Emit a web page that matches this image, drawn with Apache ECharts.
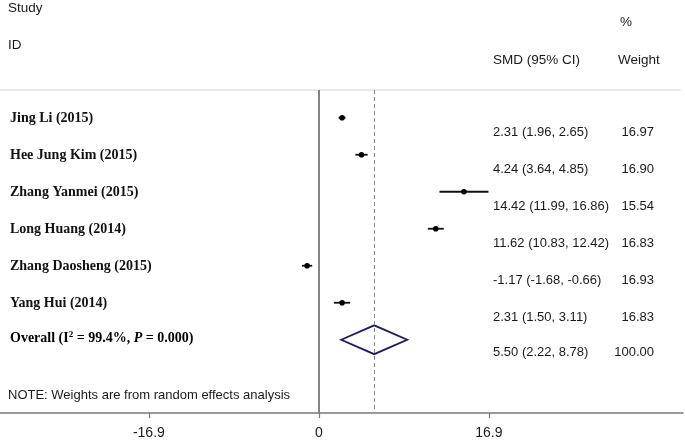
<!DOCTYPE html>
<html>
<head>
<meta charset="utf-8">
<script src="https://cdn.jsdelivr.net/npm/echarts@6/dist/echarts.min.js"></script>
<style>
html,body{margin:0;padding:0;background:#fff;}
#chart{width:685px;height:443px;}
</style>
</head>
<body>
<div id="chart"></div>
<script>
// ---- data ----
const studies = ['Jing Li (2015)', 'Hee Jung Kim (2015)', 'Zhang Yanmei (2015)', 'Long Huang (2014)', 'Zhang Daosheng (2015)', 'Yang Hui (2014)'];
const smd = [2.31, 4.24, 14.42, 11.62, -1.17, 2.31];
const lower = [1.96, 3.64, 11.99, 10.83, -1.68, 1.50];
const upper = [2.65, 4.85, 16.86, 12.42, -0.66, 3.11];
const weights = ['16.97', '16.90', '15.54', '16.83', '16.93', '16.83'];
const overallEst = 5.50;
const overallLower = 2.22;
const overallUpper = 8.78;
const overallWeight = '100.00';
const overallLabel = '{b|Overall (I}{sup|2}{b| = 99.4%, }{bi|P}{b| = 0.000)}';
const tickValues = [-16.9, 0, 16.9];
const tickLabels = ['-16.9', '0', '16.9'];
const noteText = 'NOTE: Weights are from random effects analysis';

const fmt = v => v.toFixed(2);
const ciTexts = smd.map((v, i) => fmt(v) + ' (' + fmt(lower[i]) + ', ' + fmt(upper[i]) + ')');
const overallCI = fmt(overallEst) + ' (' + fmt(overallLower) + ', ' + fmt(overallUpper) + ')';

const chart = echarts.init(document.getElementById('chart'));
const SANS = 'Liberation Sans, Arial, sans-serif';
const SERIF = 'Liberation Serif, Times New Roman, serif';
const TXT = '#1a1a1a';

const studyData = studies.map((s, i) => [lower[i], upper[i], smd[i], i]);
const nRows = studies.length;

const option = {
  animation: false,
  backgroundColor: '#fff',
  grid: { left: 0, right: 2, top: 90, bottom: 30 },
  xAxis: {
    type: 'value', min: -31.7, max: 36.2,
    axisLine: { show: true, onZero: false, lineStyle: { color: '#7a7a7a', width: 1.5 } },
    axisTick: { show: true, customValues: tickValues, length: 5, lineStyle: { color: '#7a7a7a', width: 1.2 } },
    axisLabel: {
      customValues: tickValues, margin: 13,
      formatter: v => { const k = tickValues.findIndex(t => Math.abs(t - v) < 1e-6); return k >= 0 ? tickLabels[k] : ''; },
      fontFamily: SANS, fontSize: 14, color: TXT
    },
    splitLine: { show: false }
  },
  yAxis: { type: 'value', min: -0.75, max: 7.98, inverse: true, show: false },
  graphic: [
    { type: 'line', shape: { x1: 0, y1: 90, x2: 681, y2: 90 }, style: { stroke: '#d4d4d4', lineWidth: 1 } },
    { type: 'text', x: 8, y: 8, style: { text: 'Study', font: '13.5px ' + SANS, fill: TXT, verticalAlign: 'middle' } },
    { type: 'text', x: 8, y: 45, style: { text: 'ID', font: '13.5px ' + SANS, fill: TXT, verticalAlign: 'middle' } },
    { type: 'text', x: 620, y: 22, style: { text: '%', font: '13.5px ' + SANS, fill: TXT, verticalAlign: 'middle' } },
    { type: 'text', x: 493, y: 60, style: { text: 'SMD (95% CI)', font: '13.5px ' + SANS, fill: TXT, verticalAlign: 'middle' } },
    { type: 'text', x: 618, y: 60, style: { text: 'Weight', font: '13.5px ' + SANS, fill: TXT, verticalAlign: 'middle' } },
    { type: 'text', x: 8, y: 395, style: { text: noteText, font: '13px ' + SANS, fill: TXT, verticalAlign: 'middle' } }
  ],
  series: [
    {
      type: 'custom',
      data: studyData,
      renderItem: (params, api) => {
        const row = api.value(3);
        const p1 = api.coord([api.value(0), row]);
        const p2 = api.coord([api.value(1), row]);
        const pc = api.coord([api.value(2), row]);
        const i = params.dataIndex;
        return {
          type: 'group',
          children: [
            { type: 'line', shape: { x1: p1[0], y1: p1[1], x2: p2[0], y2: p2[1] }, style: { stroke: '#111', lineWidth: 1.8 } },
            { type: 'circle', shape: { cx: pc[0], cy: pc[1], r: 2.8 }, style: { fill: '#000' } },
            { type: 'text', x: 10, y: pc[1] + 1, style: { text: studies[i], font: 'bold 14px ' + SERIF, fill: '#111', verticalAlign: 'middle' } },
            { type: 'text', x: 493, y: pc[1] + 15, style: { text: ciTexts[i], font: '13px ' + SANS, fill: TXT, verticalAlign: 'middle' } },
            { type: 'text', x: 654, y: pc[1] + 15, style: { text: weights[i], font: '13px ' + SANS, fill: TXT, align: 'right', verticalAlign: 'middle' } }
          ]
        };
      },
      markLine: {
        silent: true, symbol: ['none', 'none'], label: { show: false },
        data: [
          { xAxis: 0, lineStyle: { color: '#858585', width: 2, type: 'solid' } },
          { xAxis: overallEst, lineStyle: { color: '#8a8a8a', width: 1, type: [4, 3] } }
        ]
      },
      z: 3
    },
    {
      type: 'custom',
      data: [[overallLower, overallUpper, overallEst, nRows]],
      renderItem: (params, api) => {
        const row = api.value(3);
        const pl = api.coord([api.value(0), row]);
        const pr = api.coord([api.value(1), row]);
        const pt = api.coord([api.value(2), row - 0.39]);
        const pb = api.coord([api.value(2), row + 0.39]);
        return {
          type: 'group',
          children: [
            { type: 'polygon', shape: { points: [pl, pt, pr, pb] }, style: { fill: 'none', stroke: '#1c1c6b', lineWidth: 1.8 } },
            { type: 'text', x: 10, y: pl[1] - 1, style: {
                text: overallLabel, verticalAlign: 'middle',
                rich: {
                  b: { fontFamily: SERIF, fontWeight: 'bold', fontSize: 14, color: '#111', lineHeight: 18 },
                  bi: { fontFamily: SERIF, fontWeight: 'bold', fontStyle: 'italic', fontSize: 14, color: '#111', lineHeight: 18 },
                  sup: { fontFamily: SERIF, fontWeight: 'bold', fontSize: 9, color: '#111', verticalAlign: 'top', lineHeight: 12 }
                } } },
            { type: 'text', x: 493, y: pl[1] + 13, style: { text: overallCI, font: '13px ' + SANS, fill: TXT, verticalAlign: 'middle' } },
            { type: 'text', x: 654, y: pl[1] + 13, style: { text: overallWeight, font: '13px ' + SANS, fill: TXT, align: 'right', verticalAlign: 'middle' } }
          ]
        };
      },
      z: 4
    }
  ]
};
chart.setOption(option);
</script>
</body>
</html>
